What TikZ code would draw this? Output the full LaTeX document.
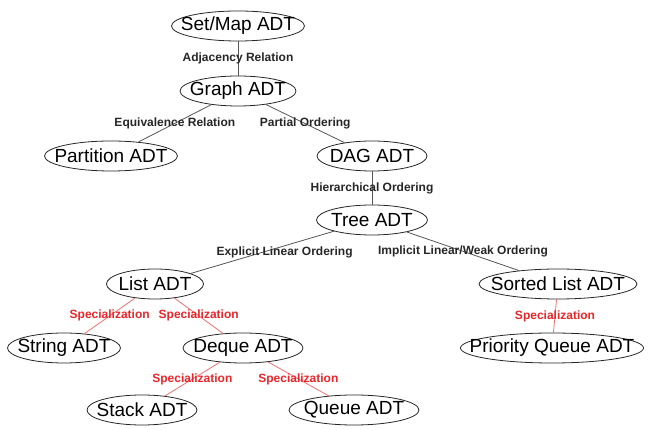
\documentclass[tikz,border=0pt]{standalone}
\usepackage{fontspec}
\setmainfont{Liberation Sans}
\usetikzlibrary{shapes.geometric}
\newcommand{\nodetext}[1]{\makebox[0pt][c]{#1}}
\definecolor{edgegray}{HTML}{555555}
\definecolor{speclinered}{HTML}{F07272}
\definecolor{spectextred}{HTML}{E8262A}
\begin{document}
\begin{tikzpicture}[x=1pt,y=1pt,
  adt/.style={ellipse, draw=black!85, line width=0.8pt, inner sep=0pt,
    minimum height=30pt, font=\fontsize{19}{21}\selectfont},
  rel/.style={draw=edgegray, line width=0.8pt},
  spec/.style={draw=speclinered, line width=0.8pt},
  rellabel/.style={font=\bfseries\fontsize{12}{14}\selectfont, text=black!85, inner sep=1pt},
  speclabel/.style={font=\bfseries\fontsize{12}{14}\selectfont, text=spectextred, inner sep=1pt}]
\useasboundingbox (0,0) rectangle (650,430);
% ADT nodes
\node[adt, minimum width=133] (setmap)   at (238,404) {\nodetext{Set/Map ADT}};
\node[adt, minimum width=116] (graph)    at (238,339) {\nodetext{Graph ADT}};
\node[adt, minimum width=133] (partition) at (111,274) {\nodetext{Partition ADT}};
\node[adt, minimum width=110] (dag)      at (372,274) {\nodetext{DAG ADT}};
\node[adt, minimum width=111] (tree)     at (372,210) {\nodetext{Tree ADT}};
\node[adt, minimum width=97]  (list)     at (155,146) {\nodetext{List ADT}};
\node[adt, minimum width=158] (sorted)   at (558,146) {\nodetext{Sorted List ADT}};
\node[adt, minimum width=113] (string)   at (64,82)   {\nodetext{String ADT}};
\node[adt, minimum width=120] (deque)    at (243,82)  {\nodetext{Deque ADT}};
\node[adt, minimum width=183] (pqueue)   at (552,82)  {\nodetext{Priority Queue ADT}};
\node[adt, minimum width=110] (stack)    at (142,20)  {\nodetext{Stack ADT}};
\node[adt, minimum width=130] (queue)    at (354,20)  {\nodetext{Queue ADT}};
% relations
\draw[rel] (setmap) -- node[rellabel] {Adjacency Relation} (graph);
\draw[rel] (graph) -- node[rellabel] {Equivalence Relation} (partition);
\draw[rel] (graph) -- node[rellabel] {Partial Ordering} (dag);
\draw[rel] (dag) -- node[rellabel] {Hierarchical Ordering} (tree);
\draw[rel] (tree) -- node[rellabel, pos=0.4, xshift=8, yshift=-4] {Explicit Linear Ordering} (list);
\draw[rel] (tree) -- node[rellabel] {Implicit Linear/Weak Ordering} (sorted);
% specializations
\draw[spec] (list) -- node[speclabel] {Specialization} (string);
\draw[spec] (list) -- node[speclabel] {Specialization} (deque);
\draw[spec] (sorted) -- node[speclabel] {Specialization} (pqueue);
\draw[spec] (deque) -- node[speclabel] {Specialization} (stack);
\draw[spec] (deque) -- node[speclabel] {Specialization} (queue);
\end{tikzpicture}
\end{document}
